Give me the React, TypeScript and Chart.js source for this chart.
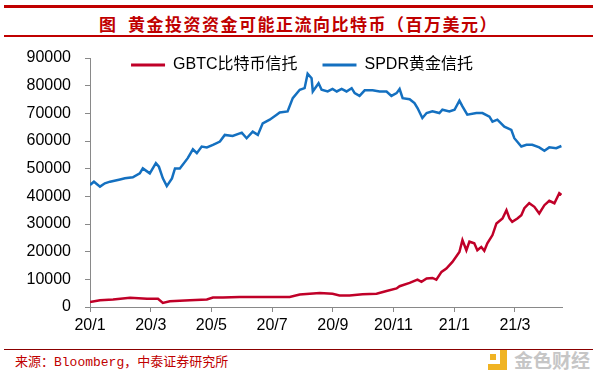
import React, { useEffect, useRef } from "react";
import { Chart, registerables } from "chart.js";

Chart.register(...registerables);

// Tick labels for the x axis (every 2 months, starting Jan 2020)
const xTickLabels = ["20/1", "20/3", "20/5", "20/7", "20/9", "20/11", "21/1", "21/3"];
const seriesNames = ["GBTC比特币信托", "SPDR黄金信托"];

// GBTC: months since 2020-01-01, values in USD millions
const gbtcMonths = [0, 0.33, 0.76, 1.32, 1.88, 2.24, 2.4, 2.63, 3.29, 3.85, 4.05, 4.38, 4.93, 5.36, 5.82, 6.58, 6.91, 7.57, 7.99, 8.22, 8.55, 8.98, 9.44, 9.77, 10.1, 10.2, 10.53, 10.79, 10.92, 11.09, 11.28, 11.41, 11.58, 11.74, 11.94, 12.17, 12.27, 12.4, 12.5, 12.66, 12.76, 12.89, 12.99, 13.09, 13.26, 13.39, 13.59, 13.72, 13.82, 13.91, 14.08, 14.21, 14.31, 14.47, 14.64, 14.8, 14.97, 15.13, 15.3, 15.46, 15.53];
const gbtcValues = [1800, 2400, 2700, 3300, 3000, 3000, 1500, 2100, 2400, 2700, 3400, 3400, 3600, 3600, 3600, 3600, 4500, 5100, 4800, 4200, 4200, 4600, 4800, 5800, 6700, 7500, 8700, 9900, 9100, 10300, 10500, 9900, 12700, 13900, 16300, 19900, 24200, 20500, 23600, 23000, 20500, 21700, 20300, 23000, 26000, 30200, 32000, 35000, 32000, 30800, 32000, 33200, 35700, 37500, 36200, 33800, 36800, 38400, 37500, 41100, 40500];

// SPDR Gold Trust: months since 2020-01-01, values in USD millions
const spdrMonths = [0, 0.13, 0.33, 0.49, 0.66, 0.99, 1.15, 1.41, 1.64, 1.74, 1.97, 2.17, 2.27, 2.4, 2.53, 2.7, 2.8, 2.96, 3.22, 3.39, 3.52, 3.68, 3.85, 4.05, 4.28, 4.44, 4.7, 5.0, 5.16, 5.36, 5.53, 5.69, 5.92, 6.15, 6.25, 6.51, 6.68, 6.91, 7.07, 7.17, 7.3, 7.34, 7.53, 7.63, 7.83, 7.99, 8.13, 8.29, 8.45, 8.62, 8.72, 8.88, 9.05, 9.31, 9.54, 9.77, 9.93, 10.1, 10.2, 10.3, 10.53, 10.69, 10.79, 10.95, 11.09, 11.28, 11.51, 11.61, 11.84, 12.01, 12.17, 12.27, 12.43, 12.73, 12.93, 13.16, 13.26, 13.42, 13.65, 13.88, 13.98, 14.21, 14.38, 14.57, 14.8, 14.97, 15.13, 15.36, 15.53];
const spdrValues = [44100, 45300, 43500, 44700, 45300, 46100, 46500, 46900, 48300, 50100, 48300, 52000, 50700, 46500, 43700, 46500, 50100, 50100, 53800, 57000, 55600, 58000, 57700, 58600, 59800, 62200, 61800, 63000, 61000, 63400, 62200, 66400, 67700, 69500, 70300, 70700, 75500, 78500, 79100, 84300, 82700, 77900, 80900, 78500, 77900, 78800, 77900, 78800, 77900, 79100, 77300, 76300, 78300, 78300, 77900, 77900, 76300, 77300, 78800, 75500, 75100, 73700, 71900, 68300, 70100, 70700, 70100, 71300, 70700, 71300, 74600, 72500, 69500, 70100, 70100, 68800, 67000, 67700, 65200, 64000, 61000, 58000, 58600, 58600, 57700, 56500, 57700, 57400, 58200];

const RED = "#C00028";
const BLUE = "#1470C0";
const DARKRED = "#C00000";
const FONT = "'Liberation Sans', Arial, 'Noto Sans CJK SC', sans-serif";

export default function App() {
  const ref = useRef<HTMLCanvasElement>(null);

  useEffect(() => {
    if (!ref.current) return;
    // Let the legend overlap the top of the plot area and centre it on the page, as in the reference
    const legendFit = {
      id: "legendFit",
      beforeInit(chart: any) {
        const lg = chart.legend;
        if (!lg) return;
        const orig = lg.fit.bind(lg);
        lg.fit = function () {
          orig();
          this.height = 28;
        };
      },
      beforeDraw(chart: any) {
        const lg = chart.legend;
        if (!lg) return;
        lg.left = 2;
        lg.right = 602;
        lg.top = chart.chartArea.top - 26;
        lg.bottom = lg.top + 60;
      },
    };
    const defaultLabels = (Chart as any).defaults.plugins.legend.labels.generateLabels;
    const chart = new Chart(ref.current, {
      type: "line",
      data: {
        datasets: [
          {
            label: seriesNames[0],
            data: gbtcMonths.map((m, i) => ({ x: m, y: gbtcValues[i] })),
            borderColor: RED,
            backgroundColor: RED,
            borderWidth: 2.5,
            pointRadius: 0,
            tension: 0,
          },
          {
            label: seriesNames[1],
            data: spdrMonths.map((m, i) => ({ x: m, y: spdrValues[i] })),
            borderColor: BLUE,
            backgroundColor: BLUE,
            borderWidth: 2.5,
            pointRadius: 0,
            tension: 0,
          },
        ],
      },
      options: {
        animation: false,
        responsive: false,
        maintainAspectRatio: false,
        layout: { padding: { left: 0, right: 38, top: 0, bottom: 0 } },
        plugins: {
          legend: {
            position: "top",
            labels: {
              boxWidth: 34,
              boxHeight: 3,
              padding: 25,
              color: "#000",
              font: { family: FONT, size: 16 },
              generateLabels: (c: any) =>
                defaultLabels(c).map((l: any) => ({ ...l, lineWidth: 0 })),
            },
          },
          tooltip: { enabled: false },
        },
        scales: {
          x: {
            type: "linear",
            min: 0,
            max: 15.55,
            afterFit: (s: any) => {
              s.height = 34;
            },
            ticks: {
              stepSize: 2,
              includeBounds: false,
              autoSkip: false,
              maxRotation: 0,
              padding: 4,
              color: "#000",
              font: { family: FONT, size: 16 },
              callback: (v: any) => {
                const i = Math.round(Number(v) / 2);
                return Math.abs(Number(v) - i * 2) < 1e-6 ? xTickLabels[i] ?? "" : "";
              },
            },
            grid: { drawOnChartArea: false, tickLength: 5, color: "#898989" },
            border: { color: "#898989", width: 1 },
          },
          y: {
            min: 0,
            max: 90000,
            afterFit: (s: any) => {
              s.width = 90;
            },
            ticks: {
              stepSize: 10000,
              padding: 14,
              color: "#000",
              font: { family: FONT, size: 16 },
              callback: (v: any) => String(v),
            },
            grid: { drawOnChartArea: false, tickLength: 5, color: "#898989" },
            border: { color: "#898989", width: 1 },
          },
        },
      },
      plugins: [legendFit],
    } as any);
    return () => chart.destroy();
  }, []);

  return (
    <div style={{ position: "fixed", left: 0, top: 0, width: 600, height: 376, background: "#fff", overflow: "hidden" }}>
      <div style={{ position: "absolute", left: 4, top: 5, width: 589, height: 2.5, background: DARKRED }} />
      <div
        style={{
          position: "absolute",
          left: 0,
          top: 14,
          width: 597,
          textAlign: "center",
          color: DARKRED,
          fontFamily: "'Noto Sans CJK SC', sans-serif",
          fontWeight: 700,
          fontSize: 17,
          lineHeight: "20px",
          letterSpacing: 1.5,
          whiteSpace: "pre",
        }}
      >
        {"图  黄金投资资金可能正流向比特币（百万美元）"}
      </div>
      <div style={{ position: "absolute", left: 4, top: 35, width: 589, height: 1.5, background: DARKRED }} />
      <canvas ref={ref} width={600} height={311} style={{ position: "absolute", left: 0, top: 30, width: 600, height: 311 }} />
      <div style={{ position: "absolute", left: 4, top: 348.5, width: 589, height: 1, background: "#8B0000" }} />
      <div
        style={{
          position: "absolute",
          left: 15,
          top: 355,
          color: DARKRED,
          fontFamily: "'Liberation Mono', 'Noto Sans CJK SC', monospace",
          fontSize: 13,
          lineHeight: "15px",
          whiteSpace: "pre",
        }}
      >
        {"来源：Bloomberg，中泰证券研究所"}
      </div>
      <div style={{ position: "absolute", left: 490, top: 354, width: 6, height: 6, background: "#F0B323" }} />
      <div style={{ position: "absolute", left: 500, top: 350, width: 7, height: 20, background: "#F0B323" }} />
      <div style={{ position: "absolute", left: 488, top: 364, width: 19, height: 6, background: "#F0B323" }} />
      <div
        style={{
          position: "absolute",
          left: 514,
          top: 348,
          color: "#c6c6c6",
          fontFamily: "'Noto Sans CJK SC', sans-serif",
          fontWeight: 700,
          fontSize: 19,
          lineHeight: "24px",
          whiteSpace: "pre",
        }}
      >
        {"金色财经"}
      </div>
    </div>
  );
}
